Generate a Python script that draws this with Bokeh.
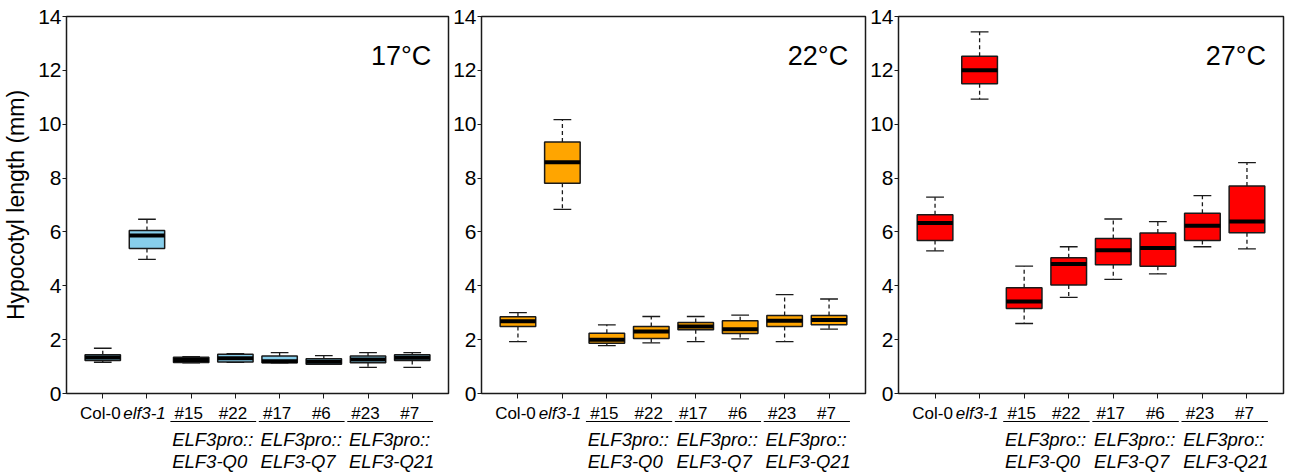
from bokeh.plotting import figure
from bokeh.layouts import row
from bokeh.models import Range1d, FixedTicker, ColumnDataSource, Label
from bokeh.core.properties import value, field
from bokeh.embed import file_html
from bokeh.resources import INLINE

genotypes = ["Col-0", "elf3-1", "#15", "#22", "#17", "#6", "#23", "#7"]
italic_labels = ["elf3-1"]
group_line1 = ["ELF3pro::", "ELF3pro::", "ELF3pro::"]
group_line2 = ["ELF3-Q0", "ELF3-Q7", "ELF3-Q21"]
group_first = ["#15", "#17", "#23"]
group_last = ["#22", "#6", "#7"]
temps = ["17°C", "22°C", "27°C"]
colors = ["#87CEEB", "#FFA500", "#FF0000"]
y_ticks = [0, 2, 4, 6, 8, 10, 12, 14]

# 17 °C
t17_wmin = [1.16, 4.98, 1.14, 1.16, 1.14, 1.08, 0.97, 0.97]
t17_q1 = [1.23, 5.38, 1.15, 1.17, 1.14, 1.09, 1.14, 1.23]
t17_med = [1.34, 5.87, 1.24, 1.31, 1.20, 1.18, 1.26, 1.33]
t17_q3 = [1.44, 6.05, 1.35, 1.46, 1.39, 1.29, 1.39, 1.44]
t17_wmax = [1.68, 6.47, 1.37, 1.48, 1.52, 1.41, 1.52, 1.52]

# 22 °C
t22_wmin = [1.93, 6.84, 1.78, 1.88, 1.93, 2.03, 1.93, 2.39]
t22_q1 = [2.49, 7.81, 1.87, 2.04, 2.37, 2.23, 2.49, 2.55]
t22_med = [2.68, 8.59, 2.00, 2.30, 2.49, 2.39, 2.70, 2.73]
t22_q3 = [2.85, 9.34, 2.24, 2.49, 2.64, 2.70, 2.90, 2.90]
t22_wmax = [3.00, 10.17, 2.55, 2.86, 2.86, 2.91, 3.67, 3.51]

# 27 °C
t27_wmin = [5.30, 10.93, 2.60, 3.57, 4.24, 4.44, 5.45, 5.37]
t27_q1 = [5.68, 11.50, 3.16, 4.03, 4.78, 4.73, 5.68, 5.97]
t27_med = [6.33, 12.00, 3.42, 4.81, 5.32, 5.40, 6.23, 6.39]
t27_q3 = [6.64, 12.52, 3.93, 5.04, 5.76, 5.96, 6.69, 7.71]
t27_wmax = [7.29, 13.43, 4.73, 5.45, 6.48, 6.38, 7.35, 8.57]

panels = [
    (t17_wmin, t17_q1, t17_med, t17_q3, t17_wmax),
    (t22_wmin, t22_q1, t22_med, t22_q3, t22_wmax),
    (t27_wmin, t27_q1, t27_med, t27_q3, t27_wmax),
]

FONT = "Liberation Sans"
PX_PER_UNIT_Y = 377 / 14.0
PX_PER_UNIT_X = 385 / 8.64

layout_specs = [  # width, min_border_left, min_border_right
    (450, 63, 2),
    (417, 30, 2),
    (423, 31, 7),
]


def ydown(px):
    return -px / PX_PER_UNIT_Y


figs = []
for i, (wmin, q1, med, q3, wmax) in enumerate(panels):
    w, bl, br = layout_specs[i]
    p = figure(width=w, height=475, x_range=Range1d(0.18, 8.82), y_range=Range1d(0, 14),
               output_backend="svg", toolbar_location=None,
               min_border_left=bl, min_border_right=br, min_border_top=16, min_border_bottom=82)
    p.background_fill_color = "white"
    p.border_fill_color = "white"
    p.outline_line_color = "#1a1a1a"
    p.outline_line_width = 1.5
    p.xgrid.grid_line_color = None
    p.ygrid.grid_line_color = None

    xs = list(range(1, len(genotypes) + 1))
    src = ColumnDataSource(dict(
        x=xs,
        xl=[x - 0.4 for x in xs], xr=[x + 0.4 for x in xs],
        cl=[x - 0.2 for x in xs], cr=[x + 0.2 for x in xs],
        wmin=wmin, q1=q1, med=med, q3=q3, wmax=wmax,
    ))
    # whiskers
    p.segment(x0="x", y0="q3", x1="x", y1="wmax", source=src, line_color="#1a1a1a",
              line_width=1.3, line_dash="4 3")
    p.segment(x0="x", y0="q1", x1="x", y1="wmin", source=src, line_color="#1a1a1a",
              line_width=1.3, line_dash="4 3")
    # caps
    p.segment(x0="cl", y0="wmax", x1="cr", y1="wmax", source=src, line_color="#1a1a1a", line_width=1.3)
    p.segment(x0="cl", y0="wmin", x1="cr", y1="wmin", source=src, line_color="#1a1a1a", line_width=1.3)
    # boxes
    p.vbar(x="x", width=0.8, bottom="q1", top="q3", source=src, fill_color=colors[i],
           line_color="#1a1a1a", line_width=1.5)
    # medians
    p.segment(x0="xl", y0="med", x1="xr", y1="med", source=src, line_color="black", line_width=4)

    # axes
    p.yaxis.ticker = FixedTicker(ticks=y_ticks)
    p.yaxis.minor_tick_line_color = None
    p.yaxis.major_tick_in = 0
    p.yaxis.major_tick_out = 4
    p.yaxis.major_label_standoff = 1
    p.yaxis.major_label_text_font = FONT
    p.yaxis.major_label_text_font_size = "21px"
    p.yaxis.major_label_text_color = "black"
    p.yaxis.axis_line_color = "#1a1a1a"
    p.yaxis.major_tick_line_color = "#1a1a1a"
    if i == 0:
        p.yaxis.axis_label = "Hypocotyl length (mm)"
        p.yaxis.axis_label_text_font = FONT
        p.yaxis.axis_label_text_font_size = "23px"
        p.yaxis.axis_label_text_font_style = "normal"
        p.yaxis.axis_label_text_color = "black"
        p.yaxis.axis_label_standoff = 6

    p.xaxis.ticker = FixedTicker(ticks=xs)
    p.xaxis.minor_tick_line_color = None
    p.xaxis.major_tick_in = 0
    p.xaxis.major_tick_out = 5
    p.xaxis.major_label_text_font_size = "0px"
    p.xaxis.major_label_text_color = None
    p.xaxis.axis_line_color = "#1a1a1a"
    p.xaxis.major_tick_line_color = "#1a1a1a"

    # category labels (drawn below the frame, unclipped)
    nudge = -2.5 / PX_PER_UNIT_X
    lab_src = ColumnDataSource(dict(
        x=[x + nudge for x in xs], y=[ydown(20)] * len(xs), text=genotypes,
        style=["italic" if g in italic_labels else "normal" for g in genotypes],
    ))
    p.text(x="x", y="y", text="text", source=lab_src, text_align="center",
           text_baseline="alphabetic", text_font=value(FONT), text_font_size="17px",
           text_font_style=field("style"), text_color="black", level="overlay")

    # group labels and underlines
    gx0 = [genotypes.index(g) + 1 - 0.47 for g in group_first]
    gx1 = [genotypes.index(g) + 1 + 0.47 for g in group_last]
    gc = [(a + b) / 2 for a, b in zip(gx0, gx1)]
    gsrc = ColumnDataSource(dict(x0=gx0, x1=gx1, y=[ydown(28)] * 3,
                                 xt=[c - 0.93 for c in gc],
                                 y1=[ydown(46)] * 3, y2=[ydown(68)] * 3,
                                 t1=group_line1, t2=group_line2))
    p.segment(x0="x0", y0="y", x1="x1", y1="y", source=gsrc, line_color="black",
              line_width=1.2, level="overlay")
    p.text(x="xt", y="y1", text="t1", source=gsrc, text_align="left",
           text_baseline="alphabetic", text_font=value(FONT), text_font_size="18.5px",
           text_font_style="italic", text_color="black", level="overlay")
    p.text(x="xt", y="y2", text="t2", source=gsrc, text_align="left",
           text_baseline="alphabetic", text_font=value(FONT), text_font_size="18.5px",
           text_font_style="italic", text_color="black", level="overlay")

    # temperature label
    p.add_layout(Label(x=8.43, y=12.55, text=temps[i], text_align="right",
                       text_baseline="alphabetic", text_font=FONT, text_font_size="27px",
                       text_color="black"))
    figs.append(p)

layout = row(*figs)
open("out.html", "w").write(file_html(layout, INLINE))
